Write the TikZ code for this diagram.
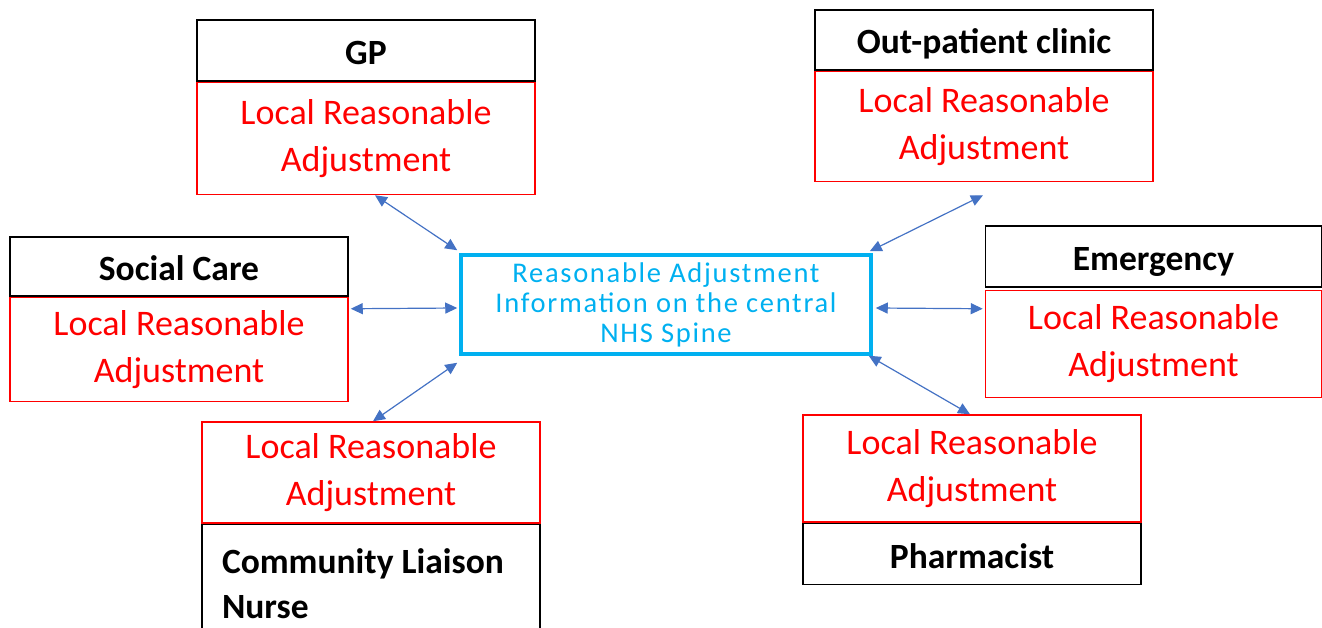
\documentclass[tikz,border=0pt]{standalone}
\usepackage{fontspec}
\setmainfont{Carlito}
\newfontfamily\spinefont[LetterSpace=6]{Carlito}
\usetikzlibrary{positioning,arrows.meta}
\definecolor{spineblue}{HTML}{00B0F0}
\definecolor{linkblue}{HTML}{4472C4}

\begin{document}
\begin{tikzpicture}[x=1pt,y=-1pt,
    title box/.style={draw=black,line width=1.5pt,minimum width=338pt,inner sep=0pt,font=\fontsize{35.5}{45}\selectfont\bfseries},
    head/.style={title box,text height=28pt,text depth=0pt},
    local/.style={draw=red,text=red,line width=1.5pt,minimum width=338pt,inner sep=0pt,align=center,font=\fontsize{36}{47}\selectfont},
    spine/.style={draw=spineblue,text=spineblue,line width=3.5pt,minimum width=410pt,minimum height=99pt,inner sep=0pt,align=center,font=\spinefont\fontsize{28.5}{30}\selectfont},
    link/.style={linkblue,line width=1.2pt,{Triangle[length=12pt,width=11pt]}-{Triangle[length=12pt,width=11pt]}}]
    \clip (0,0) rectangle (1322,628);

    \node[spine] (spine) at (666,304.5) {Reasonable Adjustment\\Information on the central\\NHS Spine};

    % top and side boxes: title on top
    \node[head,minimum height=61pt] (gp) at (366,50.5) {GP};
    \node[local,minimum height=112pt] (gplocal) [below=0pt of gp] {Local Reasonable\\Adjustment};

    \node[head,minimum height=60pt] (opc) at (984,40) {Out-patient clinic};
    \node[local,minimum height=110pt] (opclocal) [below=0pt of opc] {Local Reasonable\\Adjustment};

    \node[head,minimum height=59pt] (social) at (179,266.5) {Social Care};
    \node[local,minimum height=104pt] (sociallocal) [below=0pt of social] {Local Reasonable\\Adjustment};

    \node[head,minimum height=61pt,minimum width=336pt] (emerg) at (1153.5,256.5) {Emergency};
    \node[local,minimum height=107pt,minimum width=336pt] (emerglocal) [below=2pt of emerg] {Local Reasonable\\Adjustment};

    % bottom boxes: title underneath
    \node[local,minimum height=101pt] (cnlocal) at (371,472.5) {Local Reasonable\\Adjustment};
    \node[title box,minimum height=118pt,text width=298pt,align=flush left] (cn) [below=0pt of cnlocal] {Community Liaison\\Nurse};

    \node[local,minimum height=107pt] (pharmlocal) at (972,468.5) {Local Reasonable\\Adjustment};
    \node[head,minimum height=61pt] (pharm) [below=0pt of pharmlocal] {Pharmacist};

    \draw[link] ([xshift=9pt]gplocal.south) -- ([shift={(-2pt,3pt)}]spine.north west);
    \draw[link] ([shift={(-1pt,-13pt)}]opclocal.south) -- ([shift={(-3pt,2pt)}]spine.north east);
    \draw[link] ([shift={(2pt,-12pt)}]sociallocal.north east) -- ([shift={(-2pt,-3.5pt)}]spine.west);
    \draw[link] ([shift={(3pt,-3.5pt)}]spine.east) -- ([shift={(-2pt,-19pt)}]emerglocal.north west);
    \draw[link] ([xshift=2pt]cnlocal.north) -- ([shift={(-2pt,-7pt)}]spine.south west);
    \draw[link] ([shift={(-4pt,0pt)}]spine.south east) -- ([xshift=-2pt]pharmlocal.north);
\end{tikzpicture}
\end{document}
